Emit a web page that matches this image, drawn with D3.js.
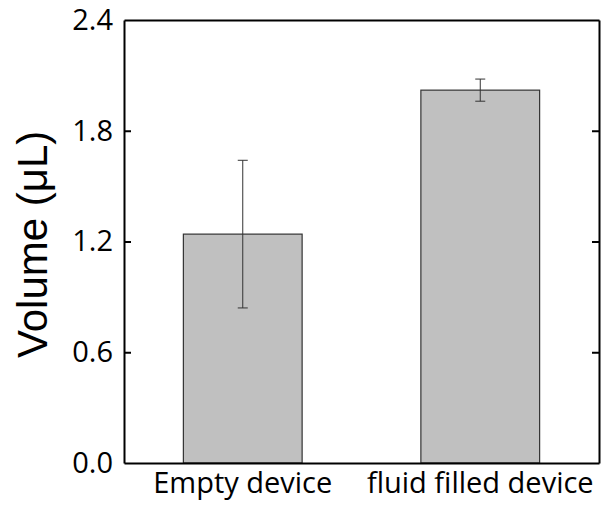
<!DOCTYPE html>
<html>
<head>
<meta charset="utf-8">
<script src="https://cdn.jsdelivr.net/npm/d3@7"></script>
<style>
  body { margin: 0; background: white; }
  text { font-family: "Open Sans", sans-serif; }
</style>
</head>
<body>
<div id="vis"></div>
<script>
// data
var categories = ['Empty device', 'fluid filled device'];
var means = [1.24, 2.02];
var errors = [0.40, 0.06];
var yTicks = [0, 0.6, 1.2, 1.8, 2.4];

var svgWidth = 603, svgHeight = 508;
var margin = {top: 20, right: 4, bottom: 45, left: 124};
var width = svgWidth - margin.left - margin.right,
    height = svgHeight - margin.top - margin.bottom;

var svg = d3.select('#vis').append('svg')
  .attr('width', svgWidth)
  .attr('height', svgHeight);

var g = svg.append('g')
  .attr('transform', 'translate(' + margin.left + ',' + margin.top + ')');

var xScale = d3.scaleBand().domain(categories).range([0, width])
  .paddingInner(0.5).paddingOuter(0.25);
var yScale = d3.scaleLinear().domain([0, 2.4]).range([height, 0]);

var data = categories.map(function(c, i) {
  return {cat: c, mean: means[i], err: errors[i]};
});

// bars
g.selectAll('.bar')
  .data(data)
  .enter().append('rect')
  .attr('class', 'bar')
  .attr('x', function(d) { return xScale(d.cat); })
  .attr('y', function(d) { return yScale(d.mean); })
  .attr('width', xScale.bandwidth())
  .attr('height', function(d) { return height - yScale(d.mean); })
  .attr('fill', '#c0c0c0')
  .attr('stroke', '#333')
  .attr('stroke-width', 1.2);

// error bars
var cap = 5;
var eb = g.selectAll('.err')
  .data(data)
  .enter().append('g')
  .attr('class', 'err')
  .attr('stroke', '#333')
  .attr('stroke-width', 1);
eb.append('line')
  .attr('x1', function(d) { return xScale(d.cat) + xScale.bandwidth() / 2; })
  .attr('x2', function(d) { return xScale(d.cat) + xScale.bandwidth() / 2; })
  .attr('y1', function(d) { return yScale(d.mean - d.err); })
  .attr('y2', function(d) { return yScale(d.mean + d.err); });
[-1, 1].forEach(function(s) {
  eb.append('line')
    .attr('x1', function(d) { return xScale(d.cat) + xScale.bandwidth() / 2 - cap; })
    .attr('x2', function(d) { return xScale(d.cat) + xScale.bandwidth() / 2 + cap; })
    .attr('y1', function(d) { return yScale(d.mean + s * d.err); })
    .attr('y2', function(d) { return yScale(d.mean + s * d.err); });
});

// axes
var leftAxis = g.append('g')
  .call(d3.axisLeft(yScale).tickValues(yTicks).tickSizeInner(-7).tickSizeOuter(0)
    .tickPadding(11).tickFormat(d3.format('.1f')));
var rightAxis = g.append('g')
  .attr('transform', 'translate(' + width + ',0)')
  .call(d3.axisRight(yScale).tickValues(yTicks).tickSizeInner(-7).tickSizeOuter(0)
    .tickFormat(''));
var bottomAxis = g.append('g')
  .attr('transform', 'translate(0,' + height + ')')
  .call(d3.axisBottom(xScale).tickSize(0).tickPadding(9));
var topAxis = g.append('g')
  .call(d3.axisTop(xScale).tickSize(0).tickFormat(''));

[leftAxis, rightAxis, bottomAxis, topAxis].forEach(function(a) {
  a.selectAll('.domain').attr('stroke', '#000').attr('stroke-width', 2);
  a.selectAll('.tick line').attr('stroke', '#000').attr('stroke-width', 2);
  a.selectAll('text').attr('font-size', 29).attr('fill', '#000')
    .style('font-family', '"Open Sans", sans-serif');
});
// ticks only on the y axes
rightAxis.selectAll('.tick').filter(function(d) { return d === 0 || d === 2.4; }).remove();
leftAxis.selectAll('.tick line').filter(function(d) { return d === 0 || d === 2.4; }).remove();

// y label
svg.append('text')
  .attr('transform', 'translate(47,358) rotate(-90)')
  .attr('text-anchor', 'start')
  .attr('font-size', 42)
  .style('font-family', '"Liberation Sans", Arial, sans-serif')
  .text('Volume (\u03bcL)');
</script>
</body>
</html>
